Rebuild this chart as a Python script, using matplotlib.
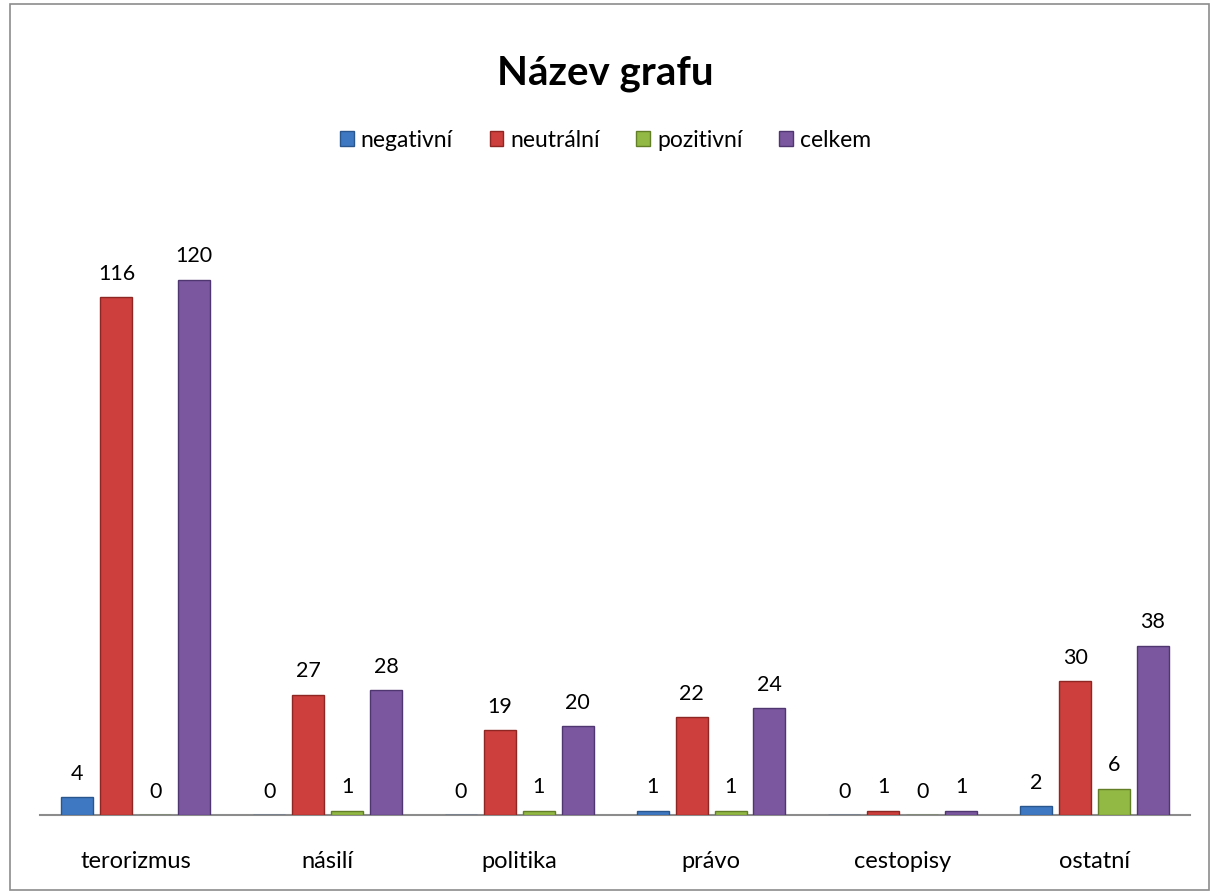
import matplotlib.pyplot as plt
import numpy as np

categories = ["terorizmus", "násilí", "politika", "právo", "cestopisy", "ostatní"]
series_names = ["negativní", "neutrální", "pozitivní", "celkem"]
negativni = [4, 0, 0, 1, 0, 2]
neutralni = [116, 27, 19, 22, 1, 30]
pozitivni = [0, 1, 1, 1, 0, 6]
celkem = [120, 28, 20, 24, 1, 38]

colors = ["#3f78c2", "#cc3f3c", "#92b944", "#7a579f"]
edges = ["#2a568e", "#8e2623", "#627f28", "#4f3670"]

plt.rcParams["font.family"] = ["Lato", "DejaVu Sans"]

fig = plt.figure(figsize=(12.11, 8.93), dpi=100)
ax = fig.add_axes([0.033, 0.087, 0.950, 0.70])

x = np.arange(len(categories))
width = 0.167
step = 0.203
values = [negativni, neutralni, pozitivni, celkem]
for i, vals in enumerate(values):
    pos = x + (i - 1.5) * step
    ax.bar(pos, vals, width, color=colors[i], edgecolor=edges[i],
           linewidth=1, label=series_names[i], zorder=3)
    for p, v in zip(pos, vals):
        ax.text(p, v + 3, str(v), ha="center", va="bottom", fontsize=15.5, color="black")

ax.set_xlim(-0.5, len(categories) - 0.5)
ax.set_ylim(0, 140)
ax.set_xticks(x)
ax.set_xticklabels(categories, fontsize=17)
ax.tick_params(axis="x", length=0, pad=26)
ax.set_yticks([])
for s in ["top", "left", "right"]:
    ax.spines[s].set_visible(False)
ax.spines["bottom"].set_color("#8c8c8c")
ax.spines["bottom"].set_linewidth(1.5)

fig.text(0.5, 0.918, "Název grafu", ha="center", va="center", fontsize=29, fontweight="bold")
fig.legend(loc="center", bbox_to_anchor=(0.5, 0.843), ncol=4, frameon=False,
           fontsize=16.5, handlelength=0.6, handleheight=0.6, handletextpad=0.3,
           columnspacing=1.6)

fig.patches.append(plt.Rectangle((0.008, 0.003), 0.99, 0.993, transform=fig.transFigure,
                                 fill=False, edgecolor="#8c8c8c", linewidth=1.2))

fig.savefig("out.png", dpi=100)
